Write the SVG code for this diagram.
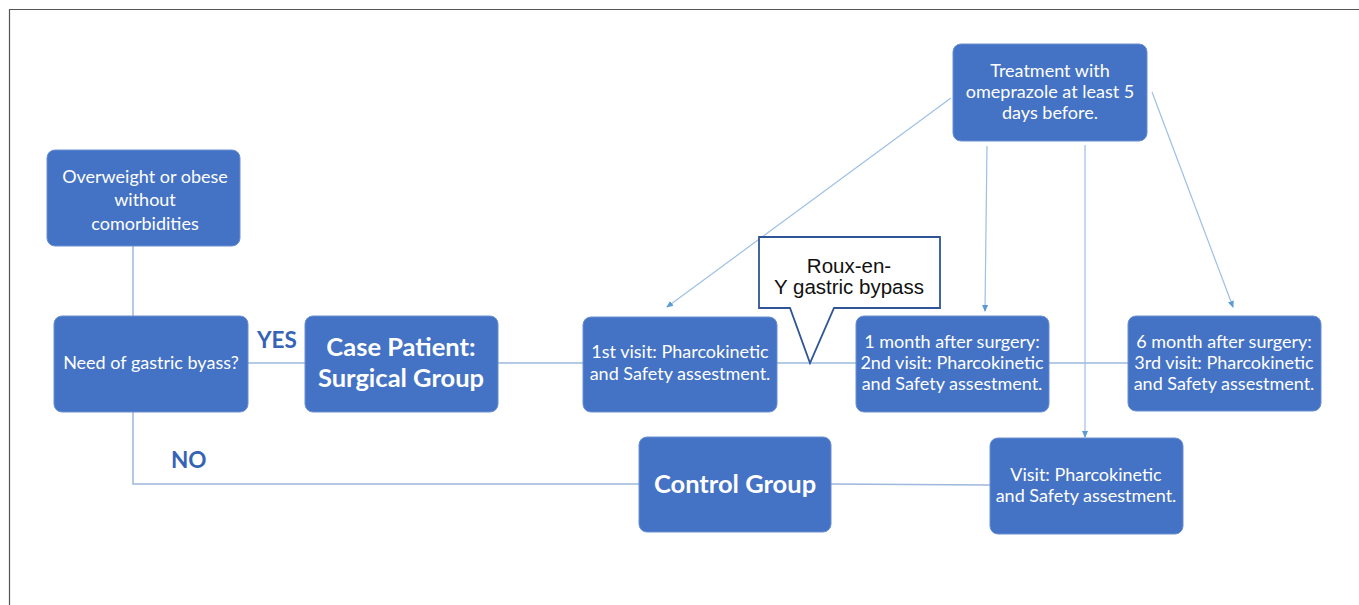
<svg xmlns="http://www.w3.org/2000/svg" width="1359" height="605" viewBox="0 0 1359 605">
<style>
.box{fill:#4472C4;stroke:#6A8FD2;stroke-width:1}
.t{font-family:Lato,"Open Sans",sans-serif;fill:#fff;font-size:18px;text-anchor:middle}
.b{font-family:Lato,"Open Sans",sans-serif;fill:#fff;font-size:25.5px;font-weight:bold;text-anchor:middle}
.lbl{font-family:Lato,"Open Sans",sans-serif;fill:#3563B5;font-size:22.5px;font-weight:bold}
.ln{fill:none;stroke:#9DB8DC;stroke-width:1.5}
.ar{fill:none;stroke:#9DC0E4;stroke-width:1.2;marker-end:url(#ah)}
.c{font-family:"Liberation Sans",Arial,sans-serif;font-size:20.5px;fill:#111;text-anchor:middle}
</style>
<defs>
<marker id="ah" markerWidth="8" markerHeight="8" refX="6" refY="4" orient="auto" markerUnits="userSpaceOnUse">
<path d="M0,1 L7,4 L0,7 Z" fill="#5B9BD5"/>
</marker>
</defs>
<rect width="1359" height="605" fill="#fff"/>
<path d="M9.5,605 V9.5 H1359" fill="none" stroke="#555" stroke-width="1.2"/>
<g id="connectors">
<path class="ln" d="M133,246 V316"/>
<path class="ln" d="M133,412 V484 H639"/>
<path class="ln" d="M248,363 H305"/>
<path class="ln" d="M498,363 H583"/>
<path class="ln" d="M777,363 H856"/>
<path class="ln" d="M1049,363 H1128"/>
<path class="ln" d="M831,484 L990,485" stroke="#8EA9D0"/>
<path class="ar" d="M951,98 L667,307"/>
<path class="ar" d="M987,146 L985,311"/>
<path class="ar" d="M1085,145 L1085,437"/>
<path class="ar" d="M1152,92 L1233,307"/>
</g>
<g id="n-overweight">
<rect class="box" x="47" y="150" width="193" height="96" rx="8"/>
<text class="t" x="145" y="183">Overweight or obese</text>
<text class="t" x="145" y="206">without</text>
<text class="t" x="145" y="230">comorbidities</text>
</g>
<g id="n-need">
<rect class="box" x="54" y="316" width="194" height="96" rx="8"/>
<text class="t" x="151" y="369">Need of gastric byass?</text>
</g>
<text class="lbl" x="257" y="348">YES</text>
<text class="lbl" x="171" y="468">NO</text>
<g id="n-case">
<rect class="box" x="305" y="316" width="193" height="96" rx="8"/>
<text class="b" x="401" y="356">Case Patient:</text>
<text class="b" x="401" y="387">Surgical Group</text>
</g>
<g id="n-visit1">
<rect class="box" x="583" y="317" width="194" height="95" rx="8"/>
<text class="t" x="680" y="358">1st visit: Pharcokinetic</text>
<text class="t" x="680" y="380">and Safety assestment.</text>
</g>
<g id="n-callout">
<path d="M759,237 H940 V308 H834 L810,363 L790,308 H759 Z" fill="#fff" stroke="#2F5597" stroke-width="1.8"/>
<text class="c" x="849" y="273">Roux-en-</text>
<text class="c" x="849" y="294">Y gastric bypass</text>
</g>
<g id="n-visit2">
<rect class="box" x="856" y="316" width="193" height="96" rx="8"/>
<text class="t" x="952" y="348">1 month after surgery:</text>
<text class="t" x="952" y="369">2nd visit: Pharcokinetic</text>
<text class="t" x="952" y="390">and Safety assestment.</text>
</g>
<g id="n-visit3">
<rect class="box" x="1128" y="316" width="193" height="95" rx="8"/>
<text class="t" x="1224" y="348">6 month after surgery:</text>
<text class="t" x="1224" y="369">3rd visit: Pharcokinetic</text>
<text class="t" x="1224" y="390">and Safety assestment.</text>
</g>
<g id="n-treatment">
<rect class="box" x="953" y="44" width="194" height="97" rx="8"/>
<text class="t" x="1050" y="77">Treatment with</text>
<text class="t" x="1050" y="98">omeprazole at least 5</text>
<text class="t" x="1050" y="119">days before.</text>
</g>
<g id="n-control">
<rect class="box" x="639" y="437" width="192" height="95" rx="8"/>
<text class="b" x="735" y="493">Control Group</text>
</g>
<g id="n-visit">
<rect class="box" x="990" y="438" width="193" height="96" rx="8"/>
<text class="t" x="1086" y="481">Visit: Pharcokinetic</text>
<text class="t" x="1086" y="502">and Safety assestment.</text>
</g>
</svg>
